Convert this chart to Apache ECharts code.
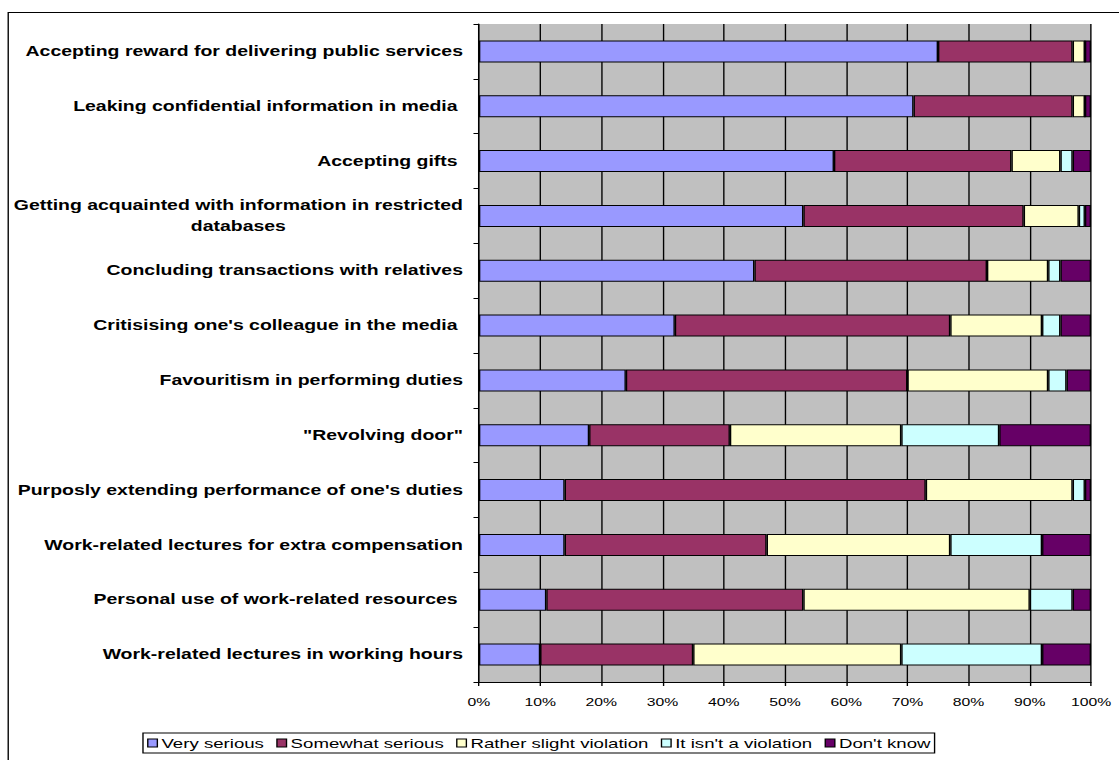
<!DOCTYPE html>
<html>
<head>
<meta charset="utf-8">
<script src="https://cdn.jsdelivr.net/npm/echarts@6/dist/echarts.min.js"></script>
<style>
  html, body { margin: 0; padding: 0; background: #fff; overflow: hidden; }
  /* the source picture is a chart stretched sideways, so the chart is drawn narrow and widened */
  #chart { width: 817px; height: 760px; transform: scaleX(1.3696); transform-origin: 0 0; }
</style>
</head>
<body>
<div id="chart"></div>
<script>
// categories, top to bottom
const categories = [
  'Accepting reward for delivering public services',
  'Leaking confidential information in media ',
  'Accepting gifts ',
  'Getting acquainted with information in restricted\ndatabases',
  'Concluding transactions with relatives',
  "Critisising one's colleague in the media ",
  'Favouritism in performing duties',
  '"Revolving door"',
  "Purposly extending performance of one's duties",
  'Work-related lectures for extra compensation',
  'Personal use of work-related resources ',
  'Work-related lectures in working hours'
];

// shares in %, same order as categories
const verySerious     = [75, 71, 58, 53, 45, 32, 24, 18, 14, 14, 11, 10];
const somewhatSerious = [22, 26, 29, 36, 38, 45, 46, 23, 59, 33, 42, 25];
const ratherSlight    = [ 2,  2,  8,  9, 10, 15, 23, 28, 24, 30, 37, 34];
const notViolation    = [ 0,  0,  2,  1,  2,  3,  3, 16,  2, 15,  7, 23];
const dontKnow        = [ 1,  1,  3,  1,  5,  5,  4, 15,  1,  8,  3,  8];

const xTicks = [0, 10, 20, 30, 40, 50, 60, 70, 80, 90, 100];

const seriesDefs = [
  { name: 'Very serious', data: verySerious, color: '#9999FF' },
  { name: 'Somewhat serious', data: somewhatSerious, color: '#993366' },
  { name: 'Rather slight violation', data: ratherSlight, color: '#FFFFCC' },
  { name: "It isn't a violation", data: notViolation, color: '#CCFFFF' },
  { name: "Don't know", data: dontKnow, color: '#660066' }
];

const font = 'Arial, "Liberation Sans", sans-serif';

const chart = echarts.init(document.getElementById('chart'), null, { renderer: 'svg' });

chart.setOption({
  animation: false,
  backgroundColor: '#fff',
  graphic: [{
    type: 'rect',
    shape: { x: 6, y: 12.5, width: 1000, height: 900 },
    style: { fill: 'none', stroke: '#000', lineWidth: 1 },
    silent: true
  }],
  grid: {
    left: 349.7,
    right: 20.4,
    top: 24,
    bottom: 78,
    show: true,
    backgroundColor: '#C0C0C0',
    borderWidth: 0
  },
  legend: {
    left: 104.4,
    top: 733,
    itemWidth: 7,
    itemHeight: 8,
    itemGap: 9,
    padding: [3, 3, 3, 3],
    borderColor: '#000',
    borderWidth: 1,
    borderRadius: 0,
    icon: 'rect',
    textStyle: { fontFamily: font, fontSize: 13.6, color: '#000', padding: [0, 0, 0, -2] },
    data: seriesDefs.map(s => ({ name: s.name, itemStyle: { borderColor: '#000', borderWidth: 1 } }))
  },
  xAxis: {
    type: 'value',
    min: 0,
    max: 100,
    interval: 10,
    axisLine: { show: true, lineStyle: { color: '#000', width: 1 } },
    axisTick: { show: true, length: 4, lineStyle: { color: '#000' } },
    axisLabel: {
      formatter: v => (xTicks.indexOf(v) >= 0 ? v + '%' : ''),
      fontFamily: font,
      fontSize: 11.5,
      color: '#000',
      margin: 14
    },
    splitLine: { show: true, lineStyle: { color: '#000', width: 1 } }
  },
  yAxis: {
    type: 'category',
    data: categories,
    inverse: true,
    axisLine: { show: true, lineStyle: { color: '#000', width: 1 } },
    axisTick: { show: true, length: 4, lineStyle: { color: '#000' } },
    axisLabel: {
      margin: 11.7,
      color: '#000',
      fontFamily: font,
      fontSize: 14.2,
      fontWeight: 'bold',
      lineHeight: 21,
      formatter: v => v.split('\n').map(l => '{a|' + l + '}').join('\n'),
      rich: {
        a: { align: 'center', fontFamily: font, fontSize: 14.2, fontWeight: 'bold', color: '#000', lineHeight: 21 }
      }
    },
    splitLine: { show: false }
  },
  series: seriesDefs.map(s => ({
    name: s.name,
    type: 'bar',
    stack: 'total',
    barWidth: 22,
    data: s.data,
    itemStyle: { color: s.color, borderColor: '#000', borderWidth: 1 },
    emphasis: { disabled: true }
  }))
});
</script>
</body>
</html>
